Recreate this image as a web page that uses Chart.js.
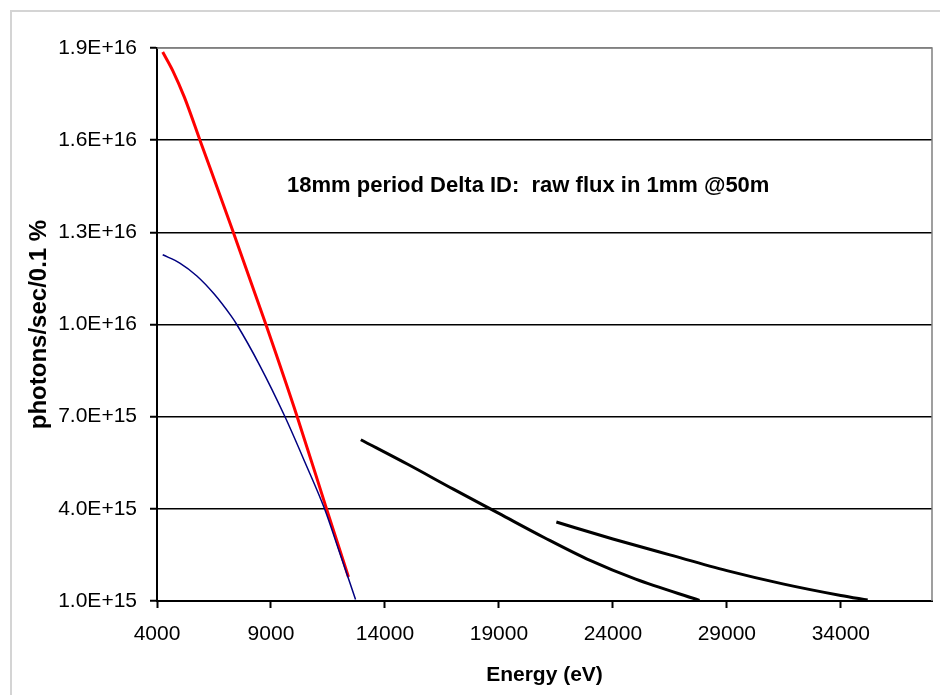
<!DOCTYPE html>
<html>
<head>
<meta charset="utf-8">
<script src="https://cdn.jsdelivr.net/npm/chart.js@4/dist/chart.umd.min.js"></script>
<style>
  body { margin: 0; background: #fff; overflow: hidden; }
  #frame { position: absolute; left: 10px; top: 10px; width: 960px; height: 720px; border: 2px solid #d4d4d4; }
  #graficoFlux { position: absolute; left: 0; top: 0; }
</style>
</head>
<body>
<div id="frame"></div>
<canvas id="graficoFlux" width="940" height="695"></canvas>
<script>
// valores (energia en eV, flujo en photons/sec/0.1%)
const xTicks = [4000, 9000, 14000, 19000, 24000, 29000, 34000];
const yTicks = [1.0e15, 4.0e15, 7.0e15, 1.0e16, 1.3e16, 1.6e16, 1.9e16];

const redEnergy = [4250, 4700, 5200, 5885, 7300, 8778, 10150, 11438, 12400];
const redFlux = [1.887e16, 1.825e16, 1.740e16, 1.600e16, 1.310e16, 1.000e16, 7.00e15, 4.00e15, 1.78e15];

const blueEnergy = [4250, 5000, 5750, 6500, 7250, 7500, 8500, 9600, 10500, 11350, 12000, 12710];
const blueFlux = [1.227e16, 1.200e16, 1.158e16, 1.100e16, 1.028e16, 1.000e16, 8.68e15, 7.02e15, 5.50e15, 4.00e15, 2.60e15, 1.05e15];

const black1Energy = [12942, 15000, 17000, 19000, 21000, 23000, 25000, 27800];
const black1Flux = [6.25e15, 5.45e15, 4.64e15, 3.85e15, 3.06e15, 2.32e15, 1.71e15, 1.02e15];

const black2Energy = [21520, 24000, 26500, 29000, 31500, 34000, 35178];
const black2Flux = [3.57e15, 3.02e15, 2.50e15, 1.99e15, 1.55e15, 1.18e15, 1.03e15];

const chartTitle = "18mm period Delta ID:  raw flux in 1mm @50m";

const pares = (xs, ys) => xs.map((x, i) => ({ x: x, y: ys[i] }));
const fuente = "'Liberation Sans', Arial, sans-serif";

const serie = (xs, ys, color, ancho) => ({
    data: pares(xs, ys),
    borderColor: color,
    borderWidth: ancho,
    pointRadius: 0,
    fill: false,
    cubicInterpolationMode: "monotone"
});

// marco gris del area de trazado + texto del titulo dentro del grafico
const marcoYTitulo = {
    id: "marcoYTitulo",
    beforeDatasetsDraw(chart) {
        const { ctx, chartArea: a } = chart;
        ctx.save();
        ctx.strokeStyle = "#808080";
        ctx.lineWidth = 1.5;
        ctx.beginPath();
        ctx.moveTo(a.left, a.top);
        ctx.lineTo(a.right, a.top);
        ctx.lineTo(a.right, a.bottom);
        ctx.stroke();
        ctx.restore();
    },
    afterDraw(chart) {
        const { ctx, chartArea: a } = chart;
        ctx.save();
        ctx.font = "bold 22px " + fuente;
        ctx.fillStyle = "#000";
        ctx.textAlign = "center";
        ctx.textBaseline = "middle";
        ctx.fillText(chartTitle, a.left + a.width * 0.479, a.top + a.height * 0.25);
        ctx.restore();
    }
};

const ctx = document.getElementById("graficoFlux").getContext("2d");
new Chart(ctx, {
    type: "line",
    data: {
        datasets: [
            serie(blueEnergy, blueFlux, "#000080", 1.5),
            serie(redEnergy, redFlux, "#ff0000", 3),
            serie(black1Energy, black1Flux, "#000000", 3),
            serie(black2Energy, black2Flux, "#000000", 3)
        ]
    },
    options: {
        responsive: false,
        animation: false,
        devicePixelRatio: 1,
        layout: { padding: { left: 0, top: 48, right: 8, bottom: 0 } },
        plugins: {
            legend: { display: false },
            tooltip: { enabled: false }
        },
        scales: {
            x: {
                type: "linear",
                min: 4000,
                max: 38000,
                afterBuildTicks: s => { s.ticks = xTicks.map(v => ({ value: v })); },
                afterFit: s => { s.height = 94; },
                ticks: {
                    color: "#000",
                    font: { family: fuente, size: 21 },
                    padding: 14,
                    maxRotation: 0,
                    callback: v => String(v)
                },
                grid: {
                    drawOnChartArea: false,
                    drawTicks: true,
                    tickLength: 7,
                    tickColor: "#000",
                    tickWidth: 2
                },
                border: { color: "#000", width: 2 },
                title: {
                    display: true,
                    text: "Energy (eV)",
                    color: "#000",
                    font: { family: fuente, size: 21, weight: "bold" },
                    padding: { top: 0, bottom: 7 }
                }
            },
            y: {
                min: 1.0e15,
                max: 1.9e16,
                afterBuildTicks: s => { s.ticks = yTicks.map(v => ({ value: v })); },
                afterFit: s => { s.width = 157; },
                ticks: {
                    color: "#000",
                    font: { family: fuente, size: 21 },
                    padding: 13,
                    callback: v => Number(v).toExponential(1).toUpperCase()
                },
                grid: {
                    color: c => (c.tick && c.tick.value === 1.9e16) ? "#808080" : "#000",
                    lineWidth: 1.5,
                    tickLength: 7,
                    tickColor: "#000",
                    tickWidth: 2
                },
                border: { color: "#000", width: 2 },
                title: {
                    display: true,
                    text: "photons/sec/0.1 %",
                    color: "#000",
                    font: { family: fuente, size: 24, weight: "bold" },
                    padding: { top: 25, bottom: 0 }
                }
            }
        }
    },
    plugins: [marcoYTitulo]
});
</script>
</body>
</html>
